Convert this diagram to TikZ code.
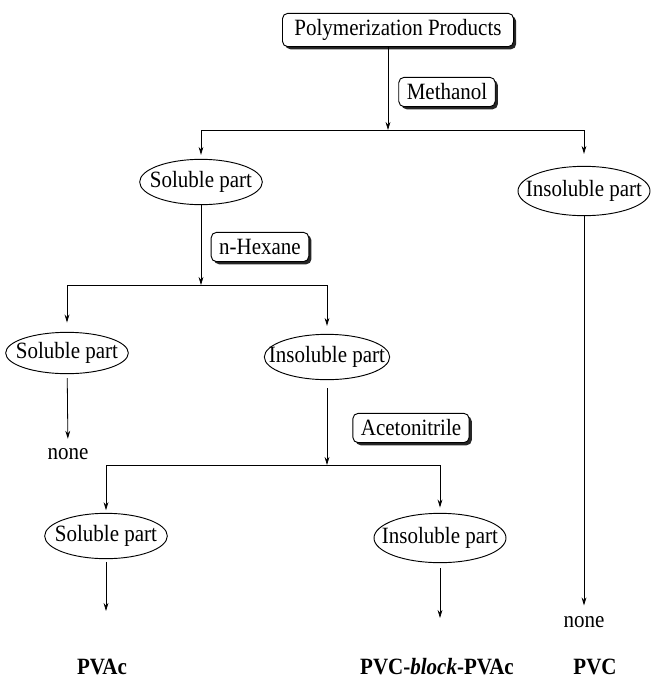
\documentclass[tikz,border=0pt]{standalone}
\usepackage{fontspec}
\setmainfont{Liberation Serif}[FakeStretch=0.9]
\usepackage{tikz}
\usetikzlibrary{arrows.meta,shapes.geometric,shadows}

\tikzset{
    solvent/.style={draw, line width=0.7pt, rounded corners=4pt, fill=white, inner xsep=6pt, inner ysep=2pt, minimum height=22pt,
        drop shadow={shadow xshift=2pt, shadow yshift=-2pt, fill=black!85, opacity=1}},
    part/.style={ellipse, draw, line width=0.7pt, inner xsep=-20pt, inner ysep=-6pt, minimum width=92pt, minimum height=34pt},
    widepart/.style={part, minimum width=99pt, minimum height=37pt},
    product/.style={font=\fontsize{17.5}{20}\selectfont\bfseries, inner sep=0pt},
    flow/.style={line width=0.6pt, -{Stealth[length=6pt, width=3.6pt]}}
}

\begin{document}
\begin{tikzpicture}[x=0.75pt, y=-0.75pt, font=\fontsize{17.5}{20}\selectfont]
        \useasboundingbox (0,0) rectangle (652,682); % page size
        \node [solvent, inner xsep=9pt, minimum height=25pt] (pp) at (398,30) {Polymerization Products}; % start
        \node [solvent] (methanol) at (447,92) {Methanol}; % first solvent
        \coordinate (split1) at (388,130); % methanol split
        \node [part] (sp1) at (201,182) {Soluble part}; % methanol soluble
        \node [widepart] (ip1) at (584,191) {Insoluble part}; % methanol insoluble
        \node [solvent] (hexane) at (260,247) {n-Hexane}; % second solvent
        \coordinate (split2) at (201,285); % hexane split
        \node [part, minimum height=31pt] (sp2) at (67,353) {Soluble part}; % hexane soluble
        \node [part, minimum width=94pt] (ip2) at (327,357) {Insoluble part}; % hexane insoluble
        \node [inner sep=0pt] (none1) at (68,454) {none}; % nothing left
        \node [solvent] (aceto) at (411,428) {Acetonitrile}; % third solvent
        \coordinate (split3) at (327,465); % acetonitrile split
        \node [part] (sp3) at (106,536) {Soluble part}; % acetonitrile soluble
        \node [widepart] (ip3) at (440,538) {Insoluble part}; % acetonitrile insoluble
        \coordinate (e1) at (106,611); % arrow end under soluble part
        \coordinate (e2) at (440,618); % arrow end under insoluble part
        \node [inner sep=0pt] (none2) at (584,622) {none}; % nothing left
        \node [product] (pvac) at (102,667) {PVAc}; % product 1
        \node [product] (block) at (437,667) {PVC-\textit{block}-PVAc}; % product 2
        \node [product] (pvc) at (595,667) {PVC}; % product 3
        \draw [flow] (pp.south -| split1) -- (split1); % into methanol
        \draw [flow, shorten >=3pt] (split1) -| (sp1);
        \draw [flow, shorten >=9pt] (split1) -| (ip1);
        \draw [flow] (sp1) -- (split2); % into hexane
        \draw [flow, shorten >=7pt] (split2) -| (sp2);
        \draw [flow, shorten >=6pt] (split2) -| (ip2);
        \draw [flow, shorten <=3pt, shorten >=7pt] (sp2) -- (none1);
        \draw [flow, shorten <=6pt] (ip2) -- (split3); % into acetonitrile
        \draw [flow, shorten >=2pt] (split3) -| (sp3);
        \draw [flow, shorten >=4pt] (split3) -| (ip3);
        \draw [flow, shorten <=2pt] (sp3) -- (e1);
        \draw [flow, shorten <=4pt] (ip3) -- (e2);
        \draw [flow, shorten >=8pt] (ip1) -- (none2);
\end{tikzpicture}
\end{document}
